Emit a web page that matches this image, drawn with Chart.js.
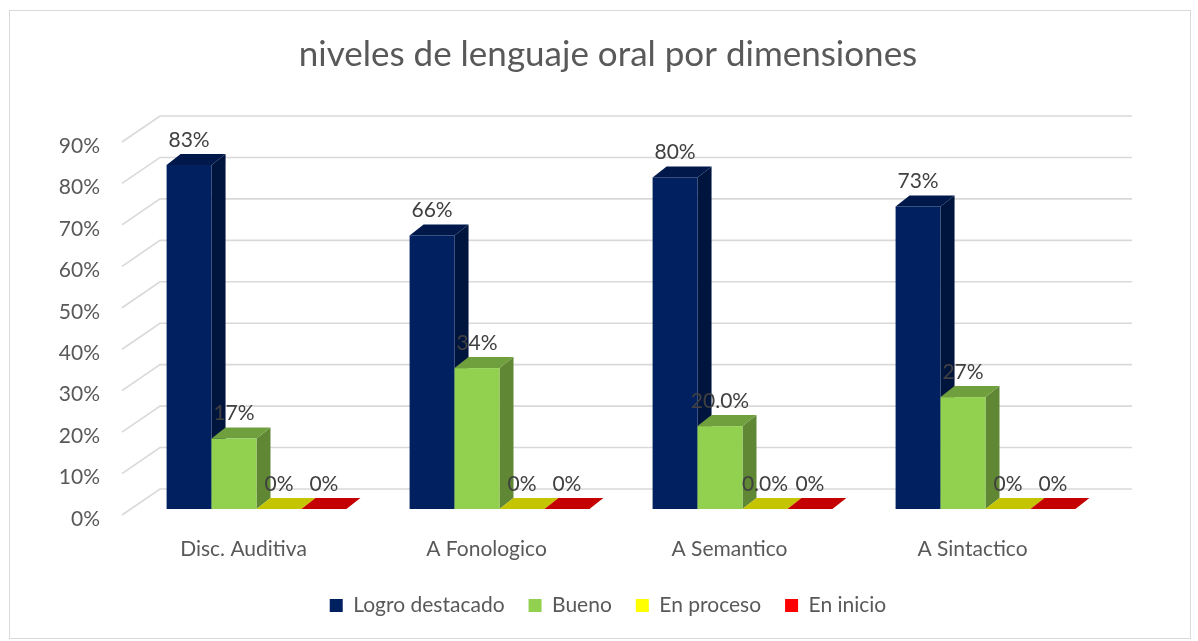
<!DOCTYPE html>
<html>
<head>
<meta charset="utf-8">
<script src="https://cdn.jsdelivr.net/npm/chart.js@4/dist/chart.umd.min.js"></script>
<style>
  html, body { margin: 0; background: #fff; }
</style>
</head>
<body>
<canvas id="chart" width="1198" height="641"></canvas>
<script>
// data (percent)
const categories = ['Disc. Auditiva', 'A Fonologico', 'A Semantico', 'A Sintactico'];
const logro = [83, 66, 80, 73];
const bueno = [17, 34, 20, 27];
const proceso = [0, 0, 0, 0];
const inicio = [0, 0, 0, 0];
const logroLabels = ['83%', '66%', '80%', '73%'];
const buenoLabels = ['17%', '34%', '20.0%', '27%'];
const procesoLabels = ['0%', '0%', '0.0%', '0%'];
const inicioLabels = ['0%', '0%', '0%', '0%'];
const seriesNames = ['Logro destacado', 'Bueno', 'En proceso', 'En inicio'];

const colors = ['#002060', '#92D050', '#FFFF00', '#FF0000'];
const TEXT = '#595959';
const DX = 14, DY = 11; // bar depth

let shade = function (hex, f) {
    let r = parseInt(hex.substr(1, 2), 16), g = parseInt(hex.substr(3, 2), 16), b = parseInt(hex.substr(5, 2), 16);
    return 'rgb(' + Math.round(r * f) + ',' + Math.round(g * f) + ',' + Math.round(b * f) + ')';
};

const labelSets = [logroLabels, buenoLabels, procesoLabels, inicioLabels];

const bars3d = {
    id: 'bars3d',
    beforeDraw(chart) {
        const ctx = chart.ctx;
        ctx.save();
        ctx.fillStyle = '#fff';
        ctx.fillRect(0, 0, chart.width, chart.height);
        ctx.strokeStyle = '#d9d9d9';
        ctx.lineWidth = 1;
        ctx.strokeRect(9.5, 10.5, 1181, 628);
        ctx.restore();
    },
    beforeDatasetsDraw(chart) {
        const {ctx, chartArea: a, scales: {y}} = chart;
        ctx.save();
        // back wall grid + oblique side lines
        ctx.strokeStyle = '#d9d9d9';
        ctx.lineWidth = 1.6;
        y.ticks.forEach(t => {
            const py = y.getPixelForValue(t.value);
            ctx.beginPath();
            ctx.moveTo(a.left - 13, py + 6);
            ctx.lineTo(a.left + 25, py - 20);
            ctx.lineTo(a.right + 25, py - 20);
            ctx.stroke();
        });
        // sides and tops, series by series
        chart.data.datasets.forEach((ds, i) => {
            const meta = chart.getDatasetMeta(i);
            meta.data.forEach(b => {
                const l = b.x - b.width / 2, r = b.x + b.width / 2, top = b.y, bot = b.base;
                ctx.fillStyle = shade(colors[i], 0.65);
                ctx.beginPath();
                ctx.moveTo(r, top); ctx.lineTo(r + DX, top - DY); ctx.lineTo(r + DX, bot - DY); ctx.lineTo(r, bot);
                ctx.closePath(); ctx.fill();
                ctx.fillStyle = shade(colors[i], 0.77);
                ctx.beginPath();
                ctx.moveTo(l, top); ctx.lineTo(l + DX, top - DY); ctx.lineTo(r + DX, top - DY); ctx.lineTo(r, top);
                ctx.closePath(); ctx.fill();
            });
        });
        // front faces
        chart.data.datasets.forEach((ds, i) => {
            const meta = chart.getDatasetMeta(i);
            meta.data.forEach(b => {
                ctx.fillStyle = colors[i];
                ctx.fillRect(b.x - b.width / 2, b.y, b.width, b.base - b.y);
            });
        });
        ctx.restore();
        return false;
    },
    afterDraw(chart) {
        const ctx = chart.ctx;
        ctx.save();
        ctx.font = '21px Lato';
        ctx.fillStyle = '#404040';
        ctx.textAlign = 'center';
        ctx.textBaseline = 'middle';
        chart.data.datasets.forEach((ds, i) => {
            chart.getDatasetMeta(i).data.forEach((b, j) => {
                ctx.fillText(labelSets[i][j], b.x, b.y - 25);
            });
        });
        ctx.restore();
    }
};

Chart.defaults.font.family = 'Lato';
Chart.defaults.color = TEXT;

const ctx = document.getElementById('chart');
new Chart(ctx, {
    type: 'bar',
    data: {
        labels: categories,
        datasets: [logro, bueno, proceso, inicio].map((d, i) => ({
            label: seriesNames[i],
            data: d,
            backgroundColor: colors[i],
            borderWidth: 0
        }))
    },
    options: {
        responsive: false,
        animation: false,
        categoryPercentage: 0.74,
        barPercentage: 1,
        layout: { padding: { left: 18, right: 0, top: 10, bottom: 15 } },
        plugins: {
            title: {
                display: true,
                text: 'niveles de lenguaje oral por dimensiones',
                color: TEXT,
                font: { size: 35, weight: 'normal' },
                padding: { top: 24, bottom: 60 }
            },
            legend: {
                position: 'bottom',
                labels: {
                    boxWidth: 13, boxHeight: 13,
                    padding: 24,
                    color: TEXT,
                    font: { size: 21 }
                }
            },
            tooltip: { enabled: false }
        },
        scales: {
            x: {
                grid: { display: false, drawTicks: false },
                border: { display: false },
                ticks: { padding: 27.4, labelOffset: -13, font: { size: 21 }, color: TEXT },
                afterFit: s => { s.height = 62; }
            },
            y: {
                min: 0, max: 90,
                grid: { display: false, drawTicks: false },
                border: { display: false },
                ticks: {
                    stepSize: 10, padding: 35, labelOffset: 10,
                    font: { size: 21 }, color: TEXT,
                    callback: v => v + '%'
                },
                afterFit: s => { s.width = 117; }
            },
            yRight: {
                position: 'right',
                grid: { display: false, drawTicks: false },
                border: { display: false },
                ticks: { display: false },
                afterFit: s => { s.width = 91; }
            }
        }
    },
    plugins: [bars3d]
});
</script>
</body>
</html>
